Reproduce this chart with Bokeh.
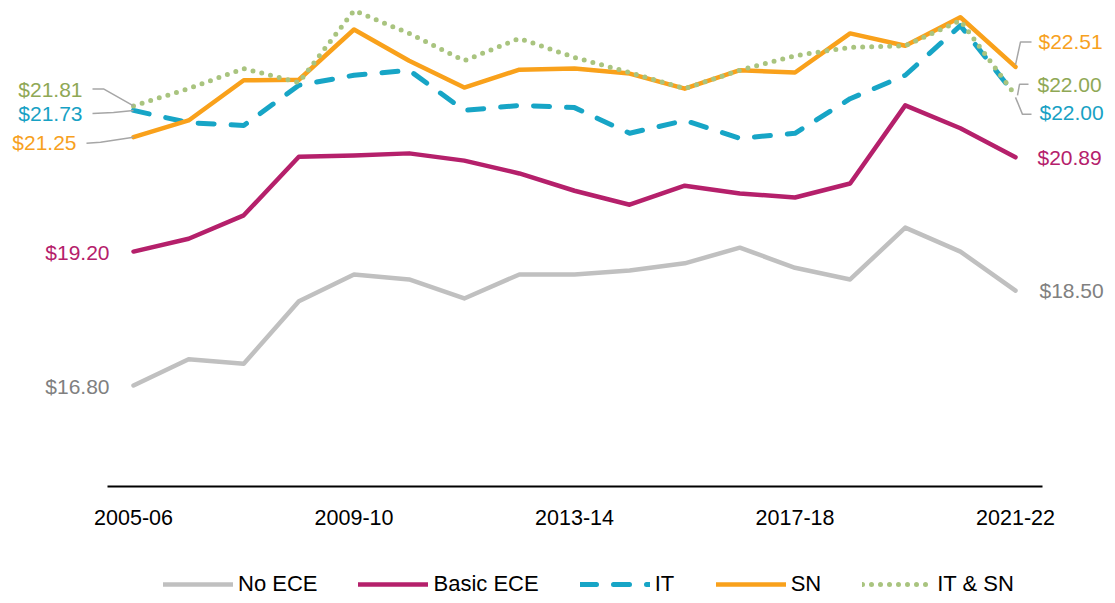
from bokeh.plotting import figure
from bokeh.models import Range1d, FixedTicker, Legend, LegendItem
from bokeh.core.properties import value
from bokeh.embed import file_html
from bokeh.resources import INLINE

# ---------------- data ----------------
years = ["2005-06", "2006-07", "2007-08", "2008-09", "2009-10", "2010-11", "2011-12",
         "2012-13", "2013-14", "2014-15", "2015-16", "2016-17", "2017-18", "2018-19",
         "2019-20", "2020-21", "2021-22"]
tick_years = ["2005-06", "2009-10", "2013-14", "2017-18", "2021-22"]
no_ece = [16.80, 17.27, 17.19, 18.31, 18.79, 18.70, 18.36, 18.79, 18.79, 18.86, 18.99,
          19.27, 18.91, 18.70, 19.63, 19.20, 18.50]
basic_ece = [19.20, 19.43, 19.85, 20.90, 20.92, 20.96, 20.83, 20.60, 20.29, 20.04, 20.38,
             20.24, 20.17, 20.42, 21.82, 21.41, 20.89]
it = [21.73, 21.51, 21.46, 22.18, 22.36, 22.45, 21.73, 21.82, 21.78, 21.32, 21.55,
      21.23, 21.32, 21.94, 22.36, 23.25, 22.00]
sn = [21.25, 21.55, 22.27, 22.28, 23.18, 22.62, 22.14, 22.46, 22.48, 22.39, 22.12,
      22.45, 22.41, 23.11, 22.89, 23.40, 22.51]
it_sn = [21.81, 22.12, 22.48, 22.23, 23.52, 23.11, 22.62, 23.02, 22.68, 22.41, 22.12,
         22.45, 22.71, 22.86, 22.89, 23.34, 22.00]
series_names = ["No ECE", "Basic ECE", "IT", "SN", "IT & SN"]

# ---------------- style ----------------
FONT = "Liberation Sans"
xs = list(range(len(years)))
W, H = 1107, 595
AXIS_Y = 486             # pixel row of the baseline
STEP_X = 55.125          # px per year
STEP_Y = 55.8            # px per dollar
BASE = 14.99             # value at the baseline
x0 = -133 / STEP_X
x1 = x0 + W / STEP_X
y1 = BASE + AXIS_Y / STEP_Y
y0 = BASE - (H - AXIS_Y) / STEP_Y
PX_X = 1 / STEP_X
PX_Y = 1 / STEP_Y

p = figure(width=W, height=H, output_backend="svg", toolbar_location=None,
           x_range=Range1d(x0, x1), y_range=Range1d(y0, y1), y_axis_location=None,
           min_border_left=0, min_border_right=0, min_border_top=0, min_border_bottom=0)
p.outline_line_color = None
p.xgrid.visible = False
p.ygrid.visible = False
p.background_fill_color = "white"

ax = p.xaxis[0]
ax.fixed_location = BASE
ax.ticker = FixedTicker(ticks=[years.index(t) for t in tick_years])
ax.major_label_overrides = {years.index(t): t for t in tick_years}
ax.bounds = (-0.4717, 16.49)
ax.axis_line_color = "black"
ax.axis_line_width = 2
ax.major_tick_out = 0
ax.major_tick_in = 0
ax.minor_tick_out = 0
ax.minor_tick_in = 0
ax.major_label_standoff = 23
ax.major_label_text_font = FONT
ax.major_label_text_font_size = "21.5px"
ax.major_label_text_color = "black"

styles = [
    dict(data=no_ece, color="#C0C0C0", width=4.5, dash="solid", lab="#808080"),
    dict(data=basic_ece, color="#B5206B", width=4.5, dash="solid", lab="#B5206B"),
    dict(data=it, color="#17A5C6", width=5, dash="16 17", lab="#17A1C4"),
    dict(data=sn, color="#F9A11B", width=4.5, dash="solid", lab="#F7A11E"),
    dict(data=it_sn, color="#A9C47F", width=5, dash="0 9", lab="#8FA855"),
]

renderers = []
for s in styles:
    r = p.line(xs, s["data"], line_color=s["color"], line_width=s["width"],
               line_dash=s["dash"], line_cap="round", line_join="round")
    renderers.append(r)

# ---------------- leader lines (pixel offsets from anchor points) ----------------
LEAD = "#A6A6A6"
def leader(ix, val, pts):
    p.line([ix + dx * PX_X for dx, dy in pts], [val - dy * PX_Y for dx, dy in pts],
           line_color=LEAD, line_width=1.5)

last = len(years) - 1
leader(0, it_sn[0], [(-41, -17), (-30, -17), (0, 0)])
leader(0, it[0], [(-41, 3), (-20, 2), (0, 0)])
leader(0, sn[0], [(-47, 6), (-33, 5), (0, 0)])
leader(last, sn[-1], [(0, -2), (5, -25), (16, -25)])
leader(last, it_sn[-1], [(2, 0), (4, -11), (13, -11)])
leader(last, it[-1], [(0, 2), (7, 19), (16, 19)])

# ---------------- end labels ----------------
left_off = [(-24, 1), (-24, 1), (-51, 3), (-57, 5), (-51, -16)]
right_off = [(24, 0), (22, 0), (24, 17), (23, -25), (22, -11)]
for s, (lx, ly), (rx, ry) in zip(styles, left_off, right_off):
    p.text([0], [s["data"][0]], text=["$%.2f" % s["data"][0]], x_offset=lx, y_offset=ly,
           text_align="right", text_baseline="middle", text_color=s["lab"],
           text_font=value(FONT), text_font_size="21px")
    p.text([last], [s["data"][-1]], text=["$%.2f" % s["data"][-1]], x_offset=rx, y_offset=ry,
           text_align="left", text_baseline="middle", text_color=s["lab"],
           text_font=value(FONT), text_font_size="21px")

# ---------------- legend ----------------
legend = Legend(items=[LegendItem(label=n, renderers=[r]) for n, r in zip(series_names, renderers)],
                orientation="horizontal", location=(163, -2),
                glyph_width=70, glyph_height=20, label_standoff=5, spacing=41,
                padding=0, margin=0, border_line_color=None, background_fill_alpha=0,
                label_text_font=FONT, label_text_font_size="22px", label_text_color="black")
p.add_layout(legend)

open("out.html", "w").write(file_html(p, INLINE))
